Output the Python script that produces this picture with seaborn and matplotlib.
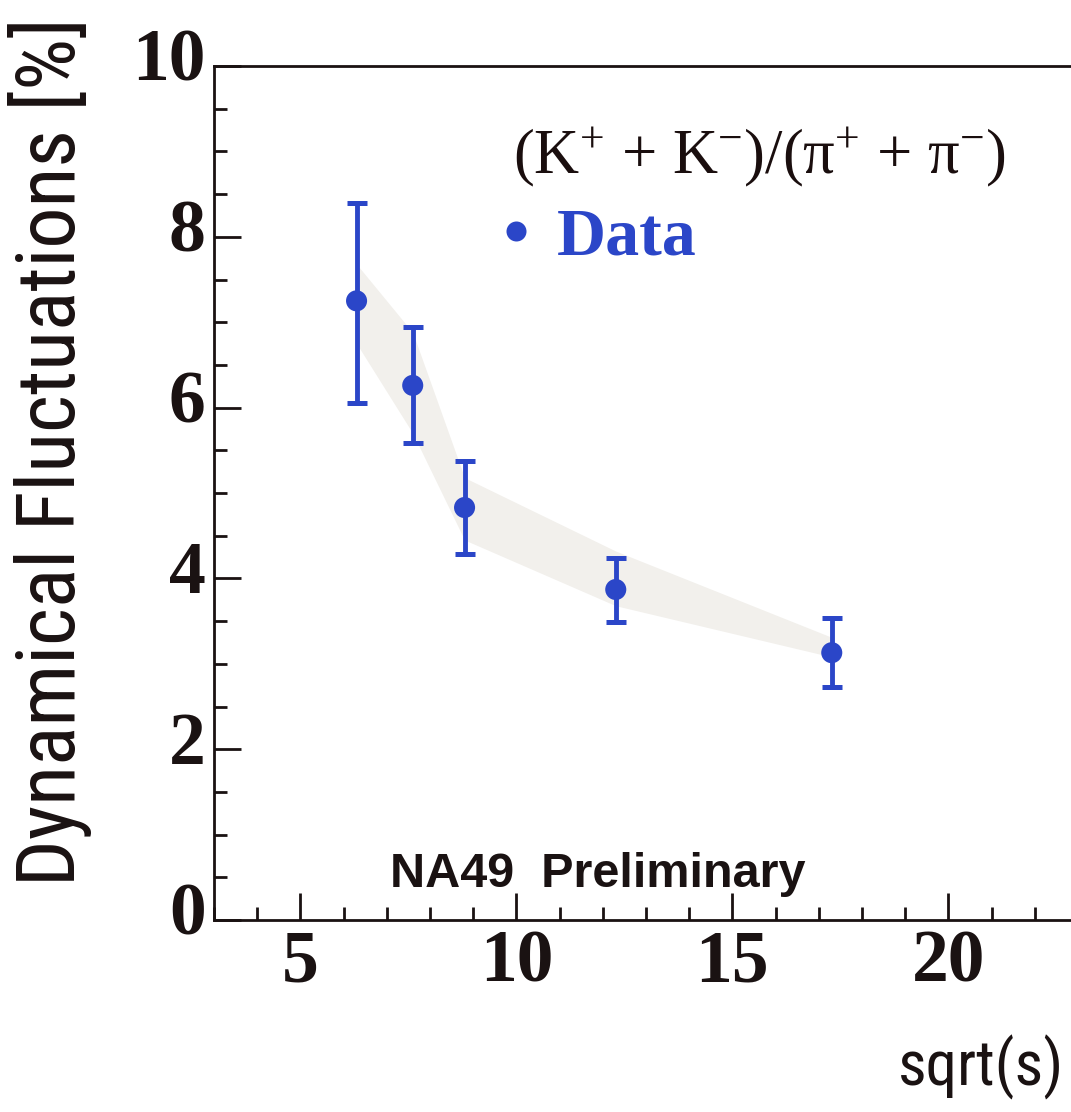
import numpy as np
import pandas as pd
import matplotlib
matplotlib.use("Agg")
import matplotlib.pyplot as plt
import matplotlib.font_manager as fm
from matplotlib.ticker import MultipleLocator, FixedLocator
from matplotlib.transforms import ScaledTranslation
import seaborn as sns

# ---------------- data ----------------
energy = [6.3, 7.6, 8.8, 12.3, 17.3]            # sqrt(s) [GeV]
fluct = [7.25, 6.26, 4.83, 3.87, 3.13]          # dynamical fluctuations [%]
err_low = [6.05, 5.59, 4.28, 3.49, 2.73]        # lower end of error bar
err_high = [8.40, 6.94, 5.37, 4.24, 3.54]       # upper end of error bar
band_low = [6.75, 5.70, 4.45, 3.68, 3.08]       # grey band lower edge
band_high = [7.68, 6.88, 5.18, 4.32, 3.31]      # grey band upper edge
x_ticks = [5, 10, 15, 20]
y_ticks = [0, 2, 4, 6, 8, 10]

df = pd.DataFrame({"sqrt_s": energy, "fluct": fluct, "series": "Data"})

# ---------------- style ----------------
sns.set_style("white")
plt.rcParams["font.family"] = ["Liberation Serif", "DejaVu Serif"]
plt.rcParams["mathtext.fontset"] = "custom"
plt.rcParams["mathtext.rm"] = "Liberation Serif"
plt.rcParams["mathtext.it"] = "Liberation Serif"
plt.rcParams["mathtext.bf"] = "Liberation Serif:bold"


def pick_condensed():
    entries = fm.fontManager.ttflist
    prefs = ["Liberation Sans Narrow", "Roboto Condensed", "Open Sans Condensed"]
    for name in prefs:
        for f in entries:
            if f.name == name and f.weight in (400, "normal", "regular") and f.style == "normal":
                return fm.FontProperties(fname=f.fname)
    for f in entries:
        if f.name == "DejaVu Sans" and f.stretch not in ("normal", 500) \
                and f.weight in (400, "normal") and f.style == "normal":
            return fm.FontProperties(fname=f.fname)
    return fm.FontProperties(family="Liberation Sans")


sans_narrow = pick_condensed()

BLUE = "#2b46c8"
DARK = "#1a1212"
W, H, DPI = 1071, 1112, 100
fig = plt.figure(figsize=(W / DPI, H / DPI), dpi=DPI)

# axes: left spine at x=214px, bottom at y=920px, top at y=66px; 43.2 px per unit in x
left_px, bot_px, top_px = 214, 920, 66
xmin, xmax = 3, 25
width_px = (xmax - xmin) * 43.2
height_px = bot_px - top_px
ax = fig.add_axes([left_px / W, 1 - bot_px / H, width_px / W, height_px / H])

ax.set_xlim(xmin, xmax)
ax.set_ylim(0, 10)

# grey band
ax.fill_between(energy, band_low, band_high, color="#f2f0ec", lw=0, zorder=1)

# error bars
yerr = np.array([np.array(fluct) - np.array(err_low), np.array(err_high) - np.array(fluct)])
ax.errorbar(energy, fluct, yerr=yerr, fmt="none", ecolor=BLUE, elinewidth=3.5,
            capsize=7.5, capthick=3.6, zorder=2)

# data points
sns.scatterplot(data=df, x="sqrt_s", y="fluct", hue="series", palette=[BLUE],
                s=230, edgecolor=BLUE, linewidth=0, ax=ax, zorder=3, legend=True)

# spines / ticks
for side in ["left", "bottom", "top", "right"]:
    ax.spines[side].set_linewidth(2.0)
    ax.spines[side].set_color(DARK)
ax.xaxis.set_major_locator(FixedLocator(x_ticks))
ax.xaxis.set_minor_locator(MultipleLocator(1))
ax.yaxis.set_major_locator(FixedLocator(y_ticks))
ax.yaxis.set_minor_locator(MultipleLocator(0.5))
ax.tick_params(which="both", direction="in", color=DARK, width=2.0,
               top=False, right=False, bottom=True, left=True)
ax.tick_params(which="major", length=19.5)
ax.tick_params(which="minor", length=9.5)
ax.tick_params(axis="x", which="major", pad=7)
ax.tick_params(axis="y", which="major", pad=6)
ax.set_xticks(x_ticks)
ax.set_yticks(y_ticks)
ax.set_xticklabels([str(v) for v in x_ticks], fontsize=53, fontweight="bold",
                   family=["Liberation Serif"], color=DARK)
ax.set_yticklabels([str(v) for v in y_ticks], fontsize=53, fontweight="bold",
                   family=["Liberation Serif"], color=DARK)
for lab in ax.get_yticklabels():
    lab.set_transform(lab.get_transform() + ScaledTranslation(0, 8 / 72, fig.dpi_scale_trans))

# axis labels
ylab_fp = sans_narrow.copy()
ylab_fp.set_size(50)
ax.set_ylabel("Dynamical Fluctuations [%]", fontproperties=ylab_fp, color=DARK)
ax.yaxis.set_label_coords((50 - left_px) / width_px, (bot_px - 452) / height_px)
ax.yaxis.label.set_va("center")
ax.yaxis.label.set_ha("center")

xlab_size = 52
xlab_fp = sans_narrow.copy()
xlab_fp.set_size(xlab_size)
ax.set_xlabel("sqrt(s)", fontproperties=xlab_fp, color=DARK)
ax.xaxis.set_label_coords((898 - left_px) / width_px, -(1086 - bot_px) / height_px)
ax.xaxis.label.set_ha("left")
ax.xaxis.label.set_va("baseline")

# annotations
ax.text((513 - left_px) / width_px, (bot_px - 173) / height_px,
        r"(K$^{+}$ + K$^{-}$)/(π$^{+}$ + π$^{-}$)", transform=ax.transAxes,
        fontsize=45, family=["Liberation Serif"], color="#1a0e0e", va="baseline", ha="left")
ax.text((390 - left_px) / width_px, (bot_px - 887) / height_px,
        "NA49  Preliminary", transform=ax.transAxes, fontsize=35, fontweight="bold",
        family=["Liberation Sans"], color=DARK, va="baseline", ha="left")

# legend "• Data"
leg = ax.legend(loc="center left",
                bbox_to_anchor=((499 - left_px) / width_px, (bot_px - 238) / height_px),
                frameon=False, handlelength=0.5, handletextpad=0.35, borderpad=0,
                borderaxespad=0, markerscale=0.95,
                prop={"family": "Liberation Serif", "weight": "bold", "size": 49})
for t in leg.get_texts():
    t.set_color(BLUE)

# fit the y label length to the reference (about 875 px long) and keep the x label inside
fig.canvas.draw()
r = fig.canvas.get_renderer()
bb = ax.yaxis.label.get_window_extent(r)
ylab_fp.set_size(min(66, 50 * 870 / bb.height))
ax.yaxis.label.set_fontproperties(ylab_fp)
bbx = ax.xaxis.label.get_window_extent(r)
avail = 1064 - 898
if bbx.width > avail:
    xlab_fp.set_size(xlab_size * avail / bbx.width)
    ax.xaxis.label.set_fontproperties(xlab_fp)

fig.savefig("out.png", dpi=DPI)
